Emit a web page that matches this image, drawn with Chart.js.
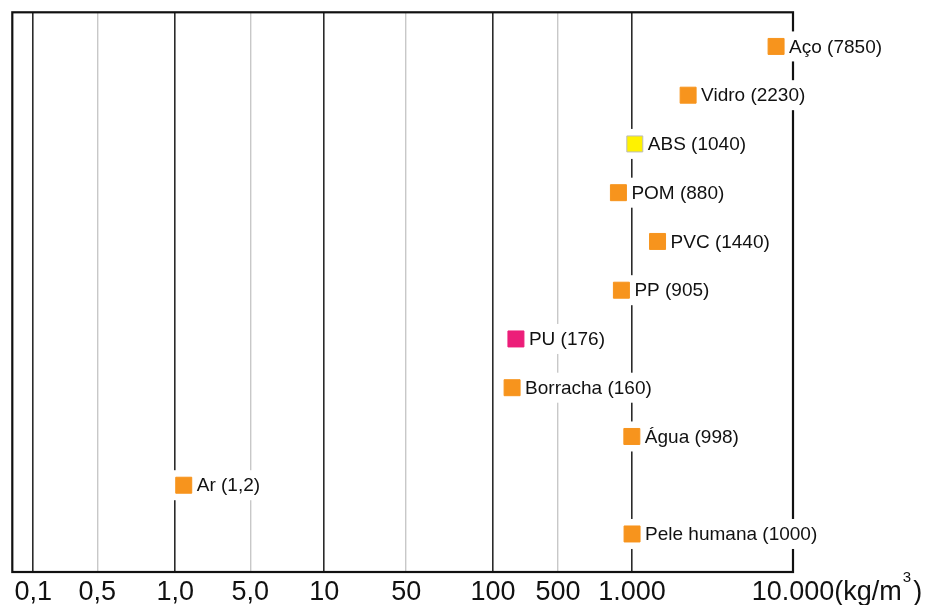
<!DOCTYPE html>
<html lang="pt">
<head>
<meta charset="UTF-8" />
<title>Densidade dos materiais</title>
<script src="https://cdn.jsdelivr.net/npm/chart.js@4.4.0/dist/chart.umd.min.js"></script>
<style>
  html, body { margin: 0; padding: 0; background: #fff; }
  .chart_wrap { width: 928px; height: 605px; position: relative; }
</style>
</head>
<body>
<div class="chart_wrap"><canvas id="densityChart"></canvas></div>
<script>
// dados (kg/m3)
const materials = ["Aço", "Vidro", "ABS", "POM", "PVC", "PP", "PU", "Borracha", "Água", "Ar", "Pele humana"];
const densities = [7850, 2230, 1040, 880, 1440, 905, 176, 160, 998, 1.2, 1000];
const markerColors = ["#f7941d", "#f7941d", "#fff200", "#f7941d", "#f7941d", "#f7941d", "#ec1e79", "#f7941d", "#f7941d", "#f7941d", "#f7941d"];
const tickValues = [0.1, 0.5, 1, 5, 10, 50, 100, 500, 1000, 10000];
const tickLabels = ["0,1", "0,5", "1,0", "5,0", "10", "50", "100", "500", "1.000", "10.000"];
const decadeTicks = [0.1, 1, 10, 100, 1000, 10000];

const FONT = "'Liberation Sans', Arial, Helvetica, sans-serif";
const TICK_SIZE = 27;

// escala "esquemática": cada intervalo entre ticks tem largura própria, log dentro do intervalo
class SchematicScale extends Chart.Scale {
  static id = "schematic";
  static defaults = {};
  determineDataLimits() {
    const stops = this.options.stops;
    this.min = stops[0];
    this.max = stops[stops.length - 1];
  }
  buildTicks() {
    return this.options.stops.map((v) => ({ value: v }));
  }
  getLabelForValue(v) {
    return String(v);
  }
  _frac(v) {
    const stops = this.options.stops;
    const gaps = this.options.gaps;
    const lead = this.options.lead;
    const total = lead + gaps.reduce((a, b) => a + b, 0);
    let pos = lead;
    if (v <= stops[0]) return lead / total;
    for (let k = 0; k < gaps.length; k++) {
      const a = stops[k], b = stops[k + 1];
      if (v <= b) {
        const t = Math.log(v / a) / Math.log(b / a);
        return (pos + gaps[k] * t) / total;
      }
      pos += gaps[k];
    }
    return 1;
  }
  getPixelForValue(v) {
    return this.getPixelForDecimal(this._frac(v));
  }
  getValueForPixel() {
    return null;
  }
}
Chart.register(SchematicScale);

const pointData = densities.map((d, i) => ({ x: d, y: i }));
const pointLabels = materials.map((m, i) => m + " (" + String(densities[i]).replace(".", ",") + ")");

const labelFont = "19px " + FONT;

// moldura + caixas brancas atrás dos rótulos
const framePlugin = {
  id: "frame",
  beforeDatasetsDraw(chart) {
    const { ctx, chartArea: a } = chart;
    ctx.save();
    ctx.strokeStyle = "#111";
    ctx.lineWidth = 2.2;
    ctx.strokeRect(a.left, a.top, a.right - a.left, a.bottom - a.top);
    ctx.font = labelFont;
    ctx.fillStyle = "#fff";
    chart.getDatasetMeta(0).data.forEach((el, i) => {
      const w = ctx.measureText(pointLabels[i]).width;
      ctx.fillRect(el.x - 11, el.y - 15, 8 + 5 + w + 14, 30);
    });
    ctx.restore();
  },
  afterDatasetsDraw(chart) {
    const { ctx } = chart;
    ctx.save();
    ctx.font = labelFont;
    ctx.fillStyle = "#111";
    ctx.textBaseline = "middle";
    chart.getDatasetMeta(0).data.forEach((el, i) => {
      ctx.fillText(pointLabels[i], el.x + 13, el.y + 1);
    });
    ctx.restore();
  },
  afterDraw(chart) {
    // unidade depois do último tick
    const scale = chart.scales.x;
    const items = scale.getLabelItems();
    const last = items[items.length - 1];
    const x = last.options.translation[0];
    const y = last.options.translation[1] + (last.textOffset || 0);
    const { ctx } = chart;
    ctx.save();
    ctx.font = TICK_SIZE + "px " + FONT;
    ctx.fillStyle = "#111";
    ctx.textBaseline = last.options.textBaseline || "middle";
    ctx.textAlign = "left";
    let cx = x + ctx.measureText(tickLabels[tickLabels.length - 1]).width / 2;
    ctx.fillText("(kg/m", cx, y);
    cx += ctx.measureText("(kg/m").width;
    ctx.font = "15px " + FONT;
    ctx.fillText("3", cx + 1, y - 14);
    cx += ctx.measureText("3").width + 3;
    ctx.font = TICK_SIZE + "px " + FONT;
    ctx.fillText(")", cx, y);
    ctx.restore();
  },
};

const config = {
  type: "scatter",
  data: {
    datasets: [
      {
        data: pointData,
        pointStyle: "rect",
        pointRadius: 11.3,
        backgroundColor: markerColors,
        borderColor: markerColors.map((c) => (c === "#fff200" ? "#bbbbbb" : c)),
        borderWidth: 1,
      },
    ],
  },
  options: {
    responsive: true,
    maintainAspectRatio: false,
    animation: false,
    events: [],
    layout: { padding: { left: 12, top: 12, right: 135, bottom: 0 } },
    plugins: { legend: { display: false }, tooltip: { enabled: false } },
    scales: {
      x: {
        type: "schematic",
        position: "bottom",
        stops: tickValues,
        lead: 21,
        gaps: [64, 78, 75, 74, 82, 87, 65, 74, 161],
        border: { display: false },
        grid: {
          drawTicks: false,
          color: (c) => (c.tick && decadeTicks.includes(c.tick.value) ? "#2a2a2a" : "#c8c8c8"),
          lineWidth: (c) => (c.tick && decadeTicks.includes(c.tick.value) ? 1.6 : 1.4),
        },
        ticks: {
          autoSkip: false,
          maxRotation: 0,
          padding: 4,
          color: "#111",
          font: { family: FONT, size: TICK_SIZE },
          callback: (v, i) => tickLabels[i],
        },
        afterFit: (s) => {
          s.height = 33;
          s.paddingLeft = 0;
          s.paddingRight = 0;
        },
      },
      y: {
        type: "linear",
        display: false,
        reverse: true,
        min: -0.7,
        max: 10.78,
      },
    },
  },
  plugins: [framePlugin],
};

const densityChart = new Chart(document.getElementById("densityChart"), config);
</script>
</body>
</html>
